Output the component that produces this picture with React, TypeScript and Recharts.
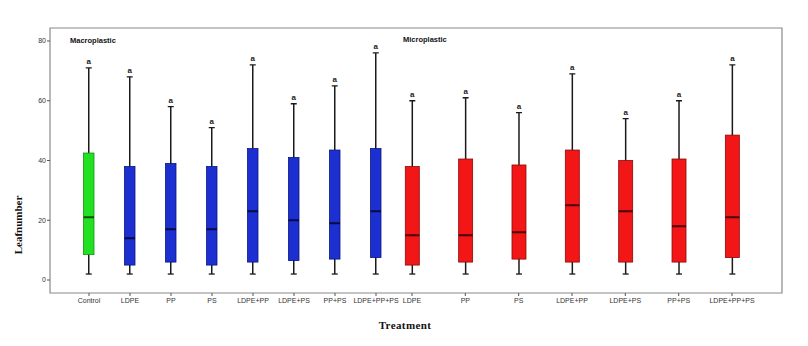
import { ComposedChart, Bar, XAxis, YAxis, ReferenceArea } from 'recharts';

// leaf number by treatment (box plot: min, q1, median, q3, max)
const macroCategories = ['Control', 'LDPE', 'PP', 'PS', 'LDPE+PP', 'LDPE+PS', 'PP+PS', 'LDPE+PP+PS'];
const macroMin = [2, 2, 2, 2, 2, 2, 2, 2];
const macroQ1 = [8.5, 5, 6, 5, 6, 6.5, 7, 7.5];
const macroMedian = [21, 14, 17, 17, 23, 20, 19, 23];
const macroQ3 = [42.5, 38, 39, 38, 44, 41, 43.5, 44];
const macroMax = [71, 68, 58, 51, 72, 59, 65, 76];
const macroLetters = ['a', 'a', 'a', 'a', 'a', 'a', 'a', 'a'];

const microCategories = ['LDPE', 'PP', 'PS', 'LDPE+PP', 'LDPE+PS', 'PP+PS', 'LDPE+PP+PS'];
const microMin = [2, 2, 2, 2, 2, 2, 2];
const microQ1 = [5, 6, 7, 6, 6, 6, 7.5];
const microMedian = [15, 15, 16, 25, 23, 18, 21];
const microQ3 = [38, 40.5, 38.5, 43.5, 40, 40.5, 48.5];
const microMax = [60, 61, 56, 69, 54, 60, 72];
const microLetters = ['a', 'a', 'a', 'a', 'a', 'a', 'a'];

const yTicks = [0, 20, 40, 60, 80];
const Y_DOMAIN: [number, number] = [-4.35, 84.35];

const STYLE: Record<string, { fill: string; stroke: string; median: string }> = {
  control: { fill: '#22e022', stroke: '#139413', median: '#0b4f0b' },
  macro: { fill: '#1c30d2', stroke: '#0b1580', median: '#060a40' },
  micro: { fill: '#f21616', stroke: '#8a0a0a', median: '#4a0505' },
};

type Row = {
  name: string;
  group: string;
  min: number;
  q1: number;
  median: number;
  q3: number;
  max: number;
  letter: string;
  range: [number, number];
};

function buildRows(
  cats: string[],
  mins: number[],
  q1s: number[],
  meds: number[],
  q3s: number[],
  maxs: number[],
  letters: string[],
  group: (name: string) => string
): Row[] {
  return cats.map((name, i) => ({
    name,
    group: group(name),
    min: mins[i],
    q1: q1s[i],
    median: meds[i],
    q3: q3s[i],
    max: maxs[i],
    letter: letters[i],
    range: [mins[i], maxs[i]],
  }));
}

const macroRows = buildRows(macroCategories, macroMin, macroQ1, macroMedian, macroQ3, macroMax, macroLetters, (n) =>
  n === 'Control' ? 'control' : 'macro'
);
const microRows = buildRows(microCategories, microMin, microQ1, microMedian, microQ3, microMax, microLetters, () => 'micro');

function BoxShape(props: any) {
  const { x, y, width, height, payload } = props;
  const p = payload as Row;
  const s = STYLE[p.group];
  const cx = x + width / 2;
  const k = height / (p.max - p.min);
  const py = (v: number) => y + (p.max - v) * k;
  const cap = 3;
  return (
    <g>
      <line x1={cx} x2={cx} y1={py(p.max)} y2={py(p.min)} stroke="#1a1a1a" strokeWidth={1.5} />
      <line x1={cx - cap} x2={cx + cap} y1={py(p.max)} y2={py(p.max)} stroke="#1a1a1a" strokeWidth={1.3} />
      <line x1={cx - cap} x2={cx + cap} y1={py(p.min)} y2={py(p.min)} stroke="#1a1a1a" strokeWidth={1.3} />
      <rect x={x} y={py(p.q3)} width={width} height={py(p.q1) - py(p.q3)} fill={s.fill} stroke={s.stroke} strokeWidth={0.8} />
      <line x1={x} x2={x + width} y1={py(p.median)} y2={py(p.median)} stroke={s.median} strokeWidth={2} />
      <text
        x={cx}
        y={py(p.max) - 4}
        textAnchor="middle"
        fontFamily="Arial, Liberation Sans, sans-serif"
        fontWeight="bold"
        fontSize={8}
        fill="#222"
      >
        {p.letter}
      </text>
    </g>
  );
}

const tickStyle = { fontSize: 7, fill: '#333', fontFamily: 'Arial, Liberation Sans, sans-serif' };

function GroupChart({ rows, left, right, barSize }: { rows: Row[]; left: number; right: number; barSize: number }) {
  return (
    <ComposedChart width={808} height={346} data={rows} margin={{ top: 28, right, bottom: 33, left }}>
      <XAxis
        dataKey="name"
        height={20}
        axisLine={false}
        tickSize={3}
        tickLine={{ stroke: '#555' }}
        tick={tickStyle}
        interval={0}
      />
      <YAxis hide domain={Y_DOMAIN} allowDataOverflow />
      <Bar dataKey="range" barSize={barSize} shape={BoxShape} isAnimationActive={false} />
    </ComposedChart>
  );
}

const layer: React.CSSProperties = { position: 'absolute', top: 0, left: 0 };

export default function App() {
  return (
    <div style={{ position: 'absolute', top: 0, left: 0, width: 808, height: 346, background: '#fff' }}>
      <div style={layer}>
        <ComposedChart width={808} height={346} data={macroRows} margin={{ top: 28, right: 26, bottom: 53, left: 20 }}>
          <XAxis type="number" dataKey="min" domain={[0, 1]} allowDataOverflow hide />
          <YAxis
            domain={Y_DOMAIN}
            ticks={yTicks}
            width={30}
            allowDataOverflow
            axisLine={false}
            tickSize={3}
            tickMargin={1}
            tickLine={{ stroke: '#555' }}
            tick={tickStyle}
          />
          <ReferenceArea x1={0} x2={1} y1={Y_DOMAIN[0]} y2={Y_DOMAIN[1]} fill="none" stroke="#8a8a8a" strokeWidth={1.2} ifOverflow="visible" />
          <text x={70} y={43} fontFamily="Arial, Liberation Sans, sans-serif" fontWeight="bold" fontSize={7.5} fill="#111">
            Macroplastic
          </text>
          <text x={403} y={42} fontFamily="Arial, Liberation Sans, sans-serif" fontWeight="bold" fontSize={7.5} fill="#111">
            Microplastic
          </text>
          <text
            x={405}
            y={329}
            textAnchor="middle"
            fontFamily="Liberation Serif, Times New Roman, serif"
            fontWeight="bold"
            fontSize={11}
            letterSpacing={0.4}
            fill="#111"
          >
            Treatment
          </text>
          <text
            x={22}
            y={225}
            textAnchor="middle"
            transform="rotate(-90 22 225)"
            fontFamily="Liberation Serif, Times New Roman, serif"
            fontWeight="bold"
            fontSize={11}
            fill="#111"
          >
            Leafnumber
          </text>
        </ComposedChart>
      </div>
      <div style={layer}>
        <GroupChart rows={macroRows} left={68.5} right={411.5} barSize={10.5} />
      </div>
      <div style={layer}>
        <GroupChart rows={microRows} left={385.3} right={49.3} barSize={14} />
      </div>
    </div>
  );
}
